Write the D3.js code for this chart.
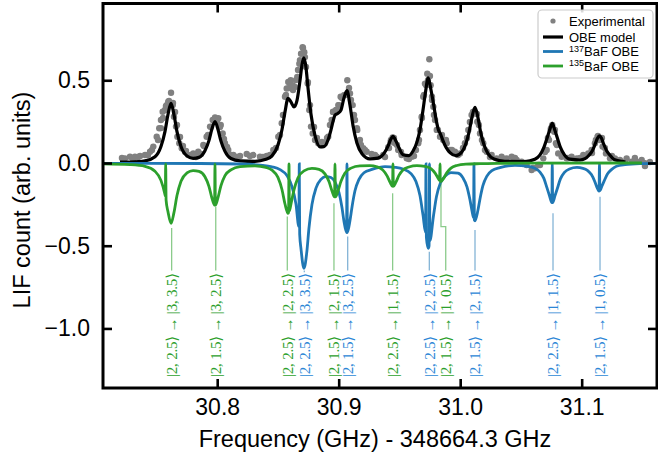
<!DOCTYPE html>
<html>
<head>
<meta charset="utf-8">
<script src="https://cdn.jsdelivr.net/npm/d3@7"></script>
<style>
  body { margin: 0; background: #fff; }
  svg text { font-family: "Liberation Sans", Arial, sans-serif; }
</style>
</head>
<body>
<div id="chart"></div>
<script>
// ---------- DATA ----------
const xTicks = [30.8, 30.9, 31.0, 31.1];
const yTicks = [0.5, 0.0, -0.5, -1.0];

// experimental points [GHz, LIF]
const experimental = [
  [30.7241,0.028],[30.7282,0.038],[30.7323,0.038],[30.7365,0.042],[30.7406,0.048],[30.7447,0.068],
  [30.7474,0.099],[30.7502,0.159],[30.7523,0.21],[30.7537,0.26],[30.7551,0.31],[30.7570,0.32],
  [30.7584,0.35],[30.7597,0.37],[30.7620,0.425],[30.7634,0.35],[30.7644,0.28],[30.7661,0.22],
  [30.7672,0.159],[30.7688,0.119],[30.7708,0.089],[30.7735,0.068],[30.7762,0.048],[30.7803,0.058],
  [30.7844,0.068],[30.7886,0.109],[30.7913,0.159],[30.7941,0.22],[30.7963,0.26],[30.7982,0.276],
  [30.8009,0.27],[30.8029,0.23],[30.8045,0.179],[30.8064,0.119],[30.8091,0.079],[30.8133,0.048],
  [30.8188,0.042],[30.8243,0.054],[30.8297,0.048],[30.8352,0.038],[30.8407,0.042],[30.8462,0.079],
  [30.8503,0.159],[30.8531,0.24],[30.8558,0.40],[30.8572,0.45],[30.8585,0.49],[30.8605,0.50],
  [30.8621,0.47],[30.8640,0.46],[30.8659,0.52],[30.8676,0.60],[30.8690,0.66],[30.8703,0.70],
  [30.8717,0.67],[30.8731,0.58],[30.8745,0.48],[30.8758,0.32],[30.8772,0.22],[30.8786,0.179],
  [30.8805,0.139],[30.8832,0.119],[30.8860,0.109],[30.8887,0.119],[30.8914,0.159],[30.8942,0.26],
  [30.8955,0.31],[30.8978,0.32],[30.8997,0.35],[30.9016,0.40],[30.9044,0.41],[30.9071,0.50],
  [30.9093,0.42],[30.9115,0.35],[30.9134,0.26],[30.9153,0.20],[30.9175,0.139],[30.9202,0.089],
  [30.9230,0.068],[30.9271,0.054],[30.9313,0.038],[30.9367,0.048],[30.9408,0.095],[30.9428,0.129],
  [30.9444,0.155],[30.9463,0.119],[30.9490,0.079],[30.9518,0.048],[30.9560,0.028],[30.9601,0.038],
  [30.9636,0.079],[30.9655,0.119],[30.9669,0.20],[30.9683,0.28],[30.9696,0.40],[30.9710,0.48],
  [30.9729,0.54],[30.9746,0.627],[30.9757,0.47],[30.9768,0.40],[30.9779,0.34],[30.9793,0.26],
  [30.9807,0.20],[30.9834,0.159],[30.9861,0.139],[30.9889,0.119],[30.9916,0.079],[30.9957,0.068],
  [30.9998,0.058],[31.0039,0.119],[31.0067,0.20],[31.0094,0.29],[31.0113,0.31],[31.0130,0.30],
  [31.0141,0.25],[31.0163,0.179],[31.0190,0.119],[31.0218,0.068],[31.0259,0.048],[31.0300,0.028],
  [31.0341,0.038],[31.0383,0.028],[31.0424,0.038],[31.0465,0.018],[31.0506,0.008],[31.0547,-0.012],
  [31.0588,-0.042],[31.0616,-0.032],[31.0643,-0.012],[31.0684,0.028],[31.0712,0.079],[31.0731,0.139],
  [31.0745,0.20],[31.0758,0.23],[31.0774,0.189],[31.0788,0.119],[31.0807,0.058],[31.0835,0.038],
  [31.0876,0.028],[31.0917,0.038],[31.0959,0.028],[31.1013,0.048],[31.1054,0.058],[31.1082,0.079],
  [31.1109,0.119],[31.1131,0.159],[31.1150,0.139],[31.1172,0.099],[31.1200,0.058],[31.1233,0.028],
  [31.1274,0.028],[31.1315,0.018],[31.1370,0.028],[31.1411,0.008],[31.1452,0.008],[31.1494,0.018],
  [31.1521,-0.002],
  [30.7216,0.030],[30.7307,0.024],[30.7348,0.036],[30.7430,0.048],[30.7463,0.079],[30.7513,0.139],
  [30.7537,0.211],[30.7554,0.272],[30.7578,0.344],[30.7603,0.375],[30.7636,0.363],[30.7653,0.308],
  [30.7669,0.230],[30.7694,0.157],[30.7718,0.103],[30.7743,0.073],[30.7784,0.048],[30.7825,0.036],
  [30.7867,0.054],[30.7891,0.103],[30.7924,0.169],[30.7949,0.218],[30.7974,0.254],[30.7998,0.254],
  [30.8023,0.218],[30.8056,0.145],[30.8081,0.097],[30.8113,0.048],[30.8163,0.036],[30.8270,0.042],
  [30.8377,0.036],[30.8434,0.048],[30.8484,0.091],[30.8517,0.169],[30.8541,0.290],[30.8566,0.411],
  [30.8591,0.453],[30.8624,0.441],[30.8648,0.501],[30.8665,0.562],[30.8681,0.622],[30.8706,0.695],
  [30.8722,0.640],[30.8747,0.489],[30.8764,0.350],[30.8797,0.218],[30.8821,0.151],[30.8862,0.127],
  [30.8904,0.151],[30.8928,0.230],[30.8953,0.308],[30.8986,0.320],[30.9002,0.350],[30.9027,0.393],
  [30.9052,0.411],[30.9085,0.453],[30.9101,0.381],[30.9126,0.290],[30.9150,0.211],[30.9183,0.109],
  [30.9216,0.079],[30.9299,0.048],[30.9381,0.036],[30.9414,0.091],[30.9430,0.139],[30.9455,0.151],
  [30.9480,0.109],[30.9513,0.066],[30.9578,0.024],[30.9620,0.042],[30.9661,0.139],[30.9685,0.272],
  [30.9702,0.411],[30.9718,0.471],[30.9735,0.501],[30.9751,0.526],[30.9768,0.381],[30.9784,0.290],
  [30.9817,0.199],[30.9850,0.169],[30.9883,0.139],[30.9932,0.079],[30.9982,0.048],[31.0023,0.091],
  [31.0056,0.151],[31.0080,0.248],[31.0105,0.308],[31.0138,0.296],[31.0154,0.230],[31.0179,0.139],
  [31.0204,0.079],[31.0245,0.036],[31.0368,0.024],[31.0451,0.030],[31.0533,0.0],[31.0599,-0.030],
  [31.0657,-0.012],[31.0698,0.066],[31.0722,0.151],[31.0747,0.211],[31.0780,0.199],[31.0796,0.109],
  [31.0838,0.048],[31.0887,0.030],[31.0986,0.030],[31.1085,0.060],[31.1117,0.139],[31.1134,0.163],
  [31.1167,0.151],[31.1191,0.091],[31.1249,0.042],[31.1356,0.006],[31.1438,0.030],[31.1521,-0.018],
  [31.1562,0.006]
];

// full OBE model
const obeModel = [
  [30.7200,0.005],[30.7282,0.006],[30.7406,0.013],[30.7488,0.038],[30.7537,0.10],[30.7570,0.19],
  [30.7595,0.293],[30.7620,0.36],[30.7644,0.293],[30.7669,0.19],[30.7702,0.10],[30.7751,0.043],
  [30.7801,0.028],[30.7850,0.034],[30.7899,0.074],[30.7932,0.135],[30.7957,0.207],[30.7982,0.25],
  [30.8006,0.204],[30.8031,0.132],[30.8064,0.07],[30.8113,0.027],[30.8188,0.013],[30.8311,0.01],
  [30.8401,0.022],[30.8451,0.043],[30.8500,0.108],[30.8533,0.201],[30.8558,0.309],[30.8583,0.391],
  [30.8607,0.369],[30.8632,0.339],[30.8657,0.379],[30.8681,0.495],[30.8698,0.594],[30.8714,0.635],
  [30.8731,0.576],[30.8747,0.457],[30.8772,0.295],[30.8805,0.165],[30.8846,0.098],[30.8879,0.099],
  [30.8912,0.139],[30.8936,0.199],[30.8953,0.25],[30.8969,0.288],[30.8994,0.30],[30.9019,0.32],
  [30.9043,0.392],[30.9068,0.437],[30.9093,0.349],[30.9118,0.226],[30.9150,0.121],[30.9192,0.056],
  [30.9257,0.025],[30.9323,0.029],[30.9373,0.058],[30.9406,0.102],[30.9426,0.139],[30.9447,0.161],
  [30.9471,0.133],[30.9496,0.092],[30.9529,0.05],[30.9578,0.045],[30.9611,0.071],[30.9644,0.126],
  [30.9669,0.20],[30.9694,0.32],[30.9714,0.426],[30.9737,0.515],[30.9759,0.444],[30.9780,0.359],
  [30.9805,0.25],[30.9821,0.20],[30.9838,0.175],[30.9858,0.135],[30.9883,0.095],[30.9916,0.063],
  [30.9965,0.045],[31.0015,0.068],[31.0047,0.117],[31.0072,0.183],[31.0097,0.276],[31.0122,0.337],
  [31.0146,0.276],[31.0171,0.177],[31.0196,0.11],[31.0229,0.057],[31.0278,0.024],[31.0368,0.01],
  [31.0533,0.009],[31.0615,0.023],[31.0657,0.049],[31.0689,0.094],[31.0714,0.148],[31.0735,0.196],
  [31.0758,0.239],[31.0780,0.196],[31.0801,0.148],[31.0825,0.094],[31.0858,0.049],[31.0903,0.023],
  [31.0986,0.018],[31.1027,0.026],[31.1060,0.047],[31.1089,0.076],[31.1113,0.118],[31.1130,0.149],
  [31.1145,0.164],[31.1163,0.149],[31.1179,0.118],[31.1204,0.076],[31.1233,0.047],[31.1266,0.022],
  [31.1331,0.01],[31.1360,0.006]
];

// 137BaF contribution (plotted negative)
const obe137 = [
  [30.7060,-0.002],[30.7858,-0.003],[30.8188,-0.006],[30.8352,-0.013],[30.8451,-0.023],[30.8517,-0.04],
  [30.8574,-0.076],[30.8615,-0.141],[30.8648,-0.247],[30.86724,-0.385],[30.86756,-0.005],[30.86789,-0.43],
  [30.8690,-0.52],[30.8714,-0.637],[30.8739,-0.528],[30.8755,-0.396],[30.8780,-0.251],[30.8813,-0.152],
  [30.8854,-0.099],[30.8895,-0.082],[30.8936,-0.088],[30.8969,-0.114],[30.9002,-0.177],[30.9027,-0.269],
  [30.9043,-0.35],[30.90649,-0.42],[30.90682,-0.005],[30.90715,-0.42],[30.9093,-0.347],[30.9110,-0.264],
  [30.9134,-0.168],[30.9167,-0.099],[30.9208,-0.059],[30.9274,-0.039],[30.9381,-0.022],[30.9463,-0.026],
  [30.9529,-0.036],[30.9595,-0.064],[30.9636,-0.112],[30.9669,-0.197],[30.9694,-0.315],[30.97151,-0.42],
  [30.97184,-0.005],[30.97217,-0.45],[30.9737,-0.516],[30.97440,-0.50],[30.97472,-0.005],[30.97505,-0.47],
  [30.9780,-0.32],[30.9805,-0.203],[30.9838,-0.12],[30.9879,-0.077],[30.9924,-0.058],[30.9982,-0.062],
  [31.0023,-0.09],[31.0056,-0.144],[31.0080,-0.221],[31.0097,-0.288],[31.01102,-0.33],[31.01135,-0.005],
  [31.01168,-0.345],[31.0122,-0.35],[31.0146,-0.286],[31.0163,-0.217],[31.0187,-0.137],[31.0220,-0.079],
  [31.0261,-0.046],[31.0327,-0.028],[31.0451,-0.015],[31.0558,-0.02],[31.0615,-0.032],[31.0657,-0.055],
  [31.0689,-0.093],[31.0714,-0.149],[31.0735,-0.198],[31.07546,-0.24],[31.07579,-0.005],[31.07612,-0.24],
  [31.0780,-0.199],[31.0801,-0.151],[31.0825,-0.096],[31.0858,-0.057],[31.0899,-0.036],[31.0961,-0.027],
  [31.1010,-0.032],[31.1047,-0.044],[31.1080,-0.07],[31.1105,-0.107],[31.1122,-0.14],[31.11431,-0.17],
  [31.11464,-0.005],[31.11497,-0.168],[31.1167,-0.139],[31.1187,-0.105],[31.1212,-0.067],[31.1245,-0.04],
  [31.1286,-0.02],[31.1356,-0.01],[31.1480,-0.004],[31.1700,-0.002]
];

// 135BaF contribution (plotted negative)
const obe135 = [
  [30.7060,-0.005],[30.7282,-0.01],[30.7406,-0.02],[30.7488,-0.05],[30.7537,-0.105],[30.7570,-0.19],
  [30.75728,-0.20],[30.75760,-0.005],[30.75793,-0.225],[30.7595,-0.295],[30.7620,-0.365],[30.7644,-0.30],
  [30.7669,-0.197],[30.7702,-0.11],[30.7751,-0.06],[30.7801,-0.046],[30.7850,-0.051],[30.7899,-0.083],
  [30.7932,-0.141],[30.7957,-0.213],[30.79785,-0.255],[30.79818,-0.005],[30.79851,-0.255],[30.8006,-0.211],
  [30.8031,-0.137],[30.8064,-0.076],[30.8113,-0.042],[30.8188,-0.022],[30.8311,-0.017],[30.8401,-0.027],
  [30.8451,-0.043],[30.8500,-0.087],[30.8533,-0.16],[30.8558,-0.248],[30.8583,-0.305],[30.85876,-0.30],
  [30.85909,-0.005],[30.85942,-0.29],[30.8607,-0.249],[30.8632,-0.162],[30.8665,-0.09],[30.8714,-0.048],
  [30.8780,-0.033],[30.8838,-0.039],[30.8887,-0.066],[30.8920,-0.112],[30.8945,-0.169],[30.89662,-0.205],
  [30.89695,-0.005],[30.89728,-0.205],[30.8994,-0.169],[30.9019,-0.11],[30.9052,-0.06],[30.9101,-0.031],
  [30.9175,-0.017],[30.9257,-0.016],[30.9315,-0.023],[30.9364,-0.043],[30.9397,-0.076],[30.9422,-0.115],
  [30.94435,-0.141],[30.94468,-0.005],[30.94501,-0.141],[30.9471,-0.116],[30.9496,-0.075],[30.9529,-0.042],
  [30.9578,-0.024],[30.9644,-0.016],[30.9710,-0.02],[30.9759,-0.034],[30.9792,-0.06],[30.9817,-0.09],
  [30.98304,-0.105],[30.98337,-0.005],[30.98370,-0.11],[30.9842,-0.112],[30.9866,-0.09],[30.9891,-0.058],
  [30.9924,-0.031],[30.9973,-0.015],[31.0047,-0.007],[31.0163,-0.004],[31.0327,-0.002],[31.0492,-0.001],
  [31.1496,0]
];

// transition labels
const transX = [30.7625, 30.7988, 30.8577, 30.8717, 30.8961, 30.9074, 30.9444, 30.9746, 30.9881, 31.0122, 31.0764, 31.1151];
const transDipX = [30.7625, 30.7988, 30.8577, 30.8717, 30.8961, 30.9074, 30.9444, 30.9746, 30.9842, 31.0122, 31.0764, 31.1151];
const transIso = ["135","135","135","137","135","137","135","137","135","137","137","137"];
const transLower = ["|2, 2.5⟩","|2, 1.5⟩","|2, 2.5⟩","|2, 2.5⟩","|2, 1.5⟩","|2, 1.5⟩","|2, 2.5⟩","|2, 2.5⟩","|2, 1.5⟩","|2, 1.5⟩","|2, 2.5⟩","|2, 1.5⟩"];
const transUpper = ["|3, 3.5⟩","|3, 2.5⟩","|2, 2.5⟩","|3, 3.5⟩","|2, 1.5⟩","|3, 2.5⟩","|1, 1.5⟩","|2, 2.5⟩","|1, 0.5⟩","|2, 1.5⟩","|1, 1.5⟩","|1, 0.5⟩"];
const connStart = [-0.393, -0.264, -0.324, -0.66, -0.244, -0.445, -0.183, -0.536, -0.123, -0.405, -0.304, -0.204];
const connStep = -0.385;
const connEnd = -0.65;

// ---------- CHART ----------
const W = 658, H = 461;
const plot = { left: 103, right: 657, top: 3.5, bottom: 388 };

const x = d3.scaleLinear().domain([30.706, 31.162]).range([plot.left, plot.right]);
const y = d3.scaleLinear().domain([-1.36, 0.964]).range([plot.bottom, plot.top]);

const colors = { exp: "#808080", model: "#000000", b137: "#1f77b4", b135: "#2ca02c" };

const svg = d3.select("#chart").append("svg")
    .attr("width", W)
    .attr("height", H);

svg.append("defs").append("clipPath").attr("id", "clip")
    .append("rect")
    .attr("x", plot.left).attr("y", plot.top)
    .attr("width", plot.right - plot.left).attr("height", plot.bottom - plot.top);

const g = svg.append("g").attr("clip-path", "url(#clip)");

// experimental dots
g.selectAll(".exp")
    .data(experimental)
    .enter()
    .append("circle")
    .attr("class", "exp")
    .attr("cx", (d) => x(d[0]))
    .attr("cy", (d) => y(d[1]))
    .attr("r", 3.2)
    .attr("fill", colors.exp);

const line = d3.line()
    .x((d) => x(d[0]))
    .y((d) => y(d[1]))
    .curve(d3.curveMonotoneX);

g.append("path").datum(obeModel).attr("d", line)
    .attr("fill", "none").attr("stroke", colors.model).attr("stroke-width", 3.2);
g.append("path").datum(obe137).attr("d", line)
    .attr("fill", "none").attr("stroke", colors.b137).attr("stroke-width", 2.8);
g.append("path").datum(obe135).attr("d", line)
    .attr("fill", "none").attr("stroke", colors.b135).attr("stroke-width", 2.8);

// connectors + labels
const ann = svg.append("g");
transX.forEach((tx, i) => {
    const col = transIso[i] === "137" ? colors.b137 : colors.b135;
    let pts;
    if (transDipX[i] !== tx) {
        pts = [[transDipX[i], connStart[i]], [transDipX[i], connStep], [tx, connStep], [tx, connEnd]];
    } else {
        pts = [[tx, connStart[i]], [tx, connEnd]];
    }
    ann.append("path")
        .attr("d", d3.line().x((d) => x(d[0])).y((d) => y(d[1]))(pts))
        .attr("fill", "none")
        .attr("stroke", col)
        .attr("stroke-opacity", 0.55)
        .attr("stroke-width", 1.3);

    ann.append("text")
        .attr("transform", `translate(${x(tx)},377) rotate(-90)`)
        .attr("dy", "0.36em")
        .attr("textLength", 104)
        .attr("lengthAdjust", "spacing")
        .style("font-family", "'Liberation Serif','DejaVu Serif',serif")
        .style("font-size", "15px")
        .attr("fill", transIso[i] === "137" ? "#2b86d6" : colors.b135)
        .text(`${transLower[i]} → ${transUpper[i]}`);
});

// axes (inward ticks on all four sides)
const fmt = d3.format(".1f");
const xAxis = svg.append("g").attr("transform", `translate(0,${plot.bottom})`)
    .call(d3.axisBottom(x).tickValues(xTicks).tickFormat(fmt).tickSizeInner(-9).tickSizeOuter(0).tickPadding(11));
const yAxis = svg.append("g").attr("transform", `translate(${plot.left},0)`)
    .call(d3.axisLeft(y).tickValues(yTicks).tickFormat(fmt).tickSizeInner(-9).tickSizeOuter(0).tickPadding(13));
const xTop = svg.append("g").attr("transform", `translate(0,${plot.top})`)
    .call(d3.axisTop(x).tickValues(xTicks).tickFormat("").tickSizeInner(-9).tickSizeOuter(0));
const yRight = svg.append("g").attr("transform", `translate(${plot.right},0)`)
    .call(d3.axisRight(y).tickValues(yTicks).tickFormat("").tickSizeInner(-9).tickSizeOuter(0));

[xAxis, yAxis, xTop, yRight].forEach((a) => {
    a.select(".domain").remove();
    a.selectAll(".tick line").attr("stroke", "#000").attr("stroke-width", 2.6);
    a.selectAll(".tick text").attr("fill", "#000").style("font-size", "23px")
        .style("font-family", "'Liberation Sans', Arial, sans-serif");
});

svg.append("rect")
    .attr("x", plot.left).attr("y", plot.top)
    .attr("width", plot.right - plot.left).attr("height", plot.bottom - plot.top)
    .attr("fill", "none").attr("stroke", "#000").attr("stroke-width", 3);

// axis titles
svg.append("text")
    .attr("x", (plot.left + plot.right) / 2 - 5)
    .attr("y", 447)
    .attr("text-anchor", "middle")
    .style("font-size", "23.5px")
    .text("Frequency (GHz) - 348664.3 GHz");

svg.append("text")
    .attr("transform", "translate(30,200) rotate(-90)")
    .attr("text-anchor", "middle")
    .style("font-size", "23.5px")
    .text("LIF count (arb. units)");

// legend
const lg = svg.append("g");
lg.append("rect")
    .attr("x", 538).attr("y", 10).attr("width", 115).attr("height", 68).attr("rx", 4)
    .attr("fill", "#fff").attr("fill-opacity", 0.85)
    .attr("stroke", "#cccccc").attr("stroke-width", 1.2);

lg.append("circle").attr("cx", 553).attr("cy", 21).attr("r", 2.6).attr("fill", colors.exp);
[[37, colors.model, 3.2], [51.5, colors.b137, 2.8], [66, colors.b135, 2.8]].forEach((d) => {
    lg.append("line").attr("x1", 543).attr("x2", 563).attr("y1", d[0]).attr("y2", d[0])
        .attr("stroke", d[1]).attr("stroke-width", d[2]);
});
const lgText = (yy) => lg.append("text").attr("x", 569).attr("y", yy).style("font-size", "13px");
lgText(25.5).text("Experimental");
lgText(41.5).text("OBE model");
const t137 = lgText(56);
t137.append("tspan").attr("dy", -4.5).style("font-size", "9px").text("137");
t137.append("tspan").attr("dy", 4.5).text("BaF OBE");
const t135 = lgText(70.5);
t135.append("tspan").attr("dy", -4.5).style("font-size", "9px").text("135");
t135.append("tspan").attr("dy", 4.5).text("BaF OBE");
</script>
</body>
</html>
